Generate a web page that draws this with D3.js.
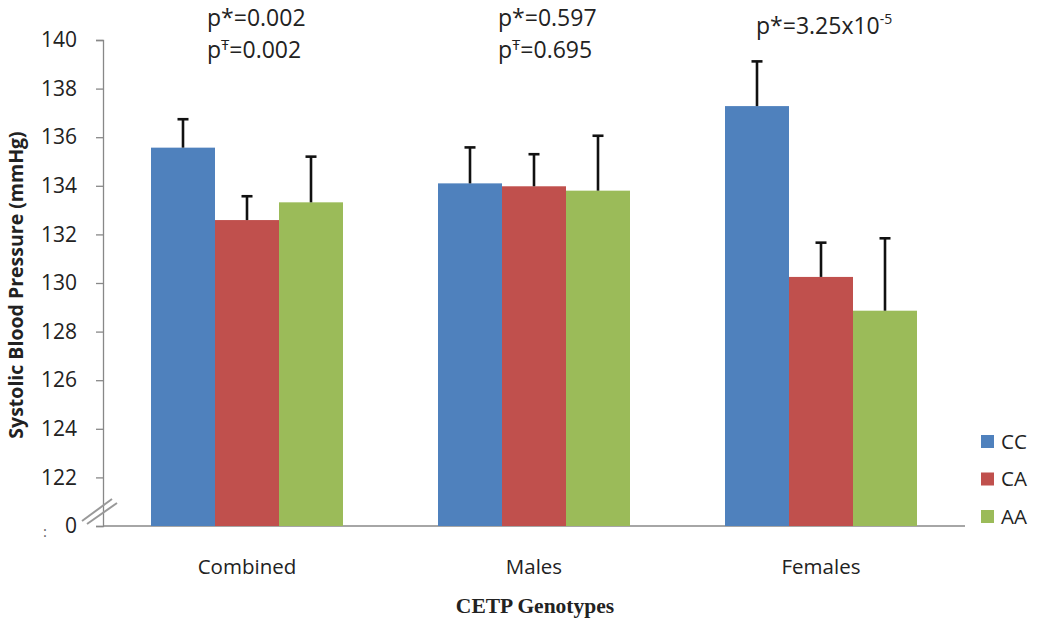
<!DOCTYPE html>
<html><head><meta charset="utf-8">
<script src="https://cdn.jsdelivr.net/npm/d3@7"></script>
<style>body{margin:0;background:#fff}svg{display:block}</style>
</head><body><svg id="c" width="1050" height="627"></svg>
<script>
const categories = ["Combined", "Males", "Females"];
const genotypes = ["CC", "CA", "AA"];
const colors = ["#4F81BD", "#C0504D", "#9BBB59"];
const ccMeans = [135.57, 134.10, 137.28];
const caMeans = [132.59, 133.98, 130.25];
const aaMeans = [133.32, 133.80, 128.86];
const ccErr = [1.17, 1.48, 1.84];
const caErr = [0.98, 1.32, 1.41];
const aaErr = [1.88, 2.26, 2.98];
const yTicks = [120, 122, 124, 126, 128, 130, 132, 134, 136, 138, 140];
const yTickLabels = ["0", "122", "124", "126", "128", "130", "132", "134", "136", "138", "140"];

const means = [ccMeans, caMeans, aaMeans];
const errs = [ccErr, caErr, aaErr];
const data = [];
categories.forEach((c, i) => genotypes.forEach((g, j) => data.push({cat: c, g, v: means[j][i], e: errs[j][i], color: colors[j]})));

const svg = d3.select("#c");
const font = "'Open Sans', 'Liberation Sans', sans-serif";
const x0 = d3.scaleBand().domain(categories).range([103.5, 964.5]);
const x1 = d3.scaleBand().domain(genotypes).range([47.5, 239.5]);
const y = d3.scaleLinear().domain([120, 140]).range([526, 40]);

// y axis
const ya = svg.append("g").attr("transform", "translate(103,0)")
  .call(d3.axisLeft(y).tickValues(yTicks).tickSize(7).tickPadding(6).tickFormat((d, i) => yTickLabels[i]));
ya.select(".domain").attr("stroke", "#888").attr("stroke-width", 1.3);
ya.selectAll(".tick line").attr("stroke", "#888").attr("stroke-width", 1.3);
ya.selectAll(".tick text").attr("font-family", font).attr("font-size", 21).attr("fill", "#222").attr("dx", -13);

// baseline
svg.append("line").attr("x1", 103).attr("x2", 965).attr("y1", y(120)).attr("y2", y(120)).attr("stroke", "#888").attr("stroke-width", 1.3);

// bars
const bars = svg.append("g");
bars.selectAll("rect").data(data).join("rect")
  .attr("x", d => x0(d.cat) + x1(d.g))
  .attr("width", x1.bandwidth())
  .attr("y", d => y(d.v))
  .attr("height", d => y(120) - y(d.v))
  .attr("fill", d => d.color);

// error bars
const eb = svg.append("g").attr("stroke", "#111").attr("stroke-width", 2.6);
eb.selectAll("line.v").data(data).join("line").attr("class", "v")
  .attr("x1", d => x0(d.cat) + x1(d.g) + x1.bandwidth() / 2)
  .attr("x2", d => x0(d.cat) + x1(d.g) + x1.bandwidth() / 2)
  .attr("y1", d => y(d.v)).attr("y2", d => y(d.v + d.e));
eb.selectAll("line.c").data(data).join("line").attr("class", "c")
  .attr("x1", d => x0(d.cat) + x1(d.g) + x1.bandwidth() / 2 - 5.5)
  .attr("x2", d => x0(d.cat) + x1(d.g) + x1.bandwidth() / 2 + 5.5)
  .attr("y1", d => y(d.v + d.e)).attr("y2", d => y(d.v + d.e));

// axis break mark
const brk = svg.append("g").attr("stroke", "#999").attr("stroke-width", 2);
brk.append("line").attr("x1", 82).attr("y1", 521).attr("x2", 112).attr("y2", 499);
brk.append("line").attr("x1", 87).attr("y1", 524).attr("x2", 117).attr("y2", 503);
svg.append("text").attr("x", 43).attr("y", 537).attr("font-family", font).attr("font-size", 15).attr("fill", "#666").text(":");

// x labels
svg.append("g").selectAll("text").data(categories).join("text")
  .attr("x", d => x0(d) + x0.bandwidth() / 2).attr("y", 574)
  .attr("text-anchor", "middle").attr("font-family", font).attr("font-size", 20.5).attr("fill", "#222").text(d => d);

// axis titles
svg.append("text").attr("transform", "translate(23,285) rotate(-90)").attr("text-anchor", "middle")
  .attr("font-family", font).attr("font-weight", "bold").attr("font-size", 19.5).attr("fill", "#222")
  .text("Systolic Blood Pressure (mmHg)");
svg.append("text").attr("x", 535).attr("y", 613).attr("text-anchor", "middle")
  .attr("font-family", "'Liberation Serif', serif").attr("font-weight", "bold").attr("font-size", 21.5).attr("fill", "#222")
  .text("CETP Genotypes");

// p annotations
const pFont = 23;
function pLine(xp, yp, sym, val) {
  const t = svg.append("text").attr("x", xp).attr("y", yp).attr("font-family", font).attr("font-size", pFont).attr("fill", "#222");
  t.append("tspan").text("p");
  if (sym === "*") t.append("tspan").text("*");
  else t.append("tspan").attr("font-size", 15).attr("dy", -8).text("Ŧ");
  t.append("tspan").attr("dy", sym === "*" ? 0 : 8).text(val);
  return t;
}
pLine(207, 26, "*", "=0.002");
pLine(207, 58, "T", "=0.002");
pLine(498, 26, "*", "=0.597");
pLine(498, 58, "T", "=0.695");
const t3 = pLine(756, 34, "*", "=3.25x10");
t3.append("tspan").attr("font-size", 14).attr("dy", -10).text("-5");

// legend
const lg = svg.append("g").attr("transform", "translate(981,441)");
genotypes.forEach((g, i) => {
  lg.append("rect").attr("x", 0).attr("y", i * 37.5 - 6).attr("width", 13).attr("height", 13).attr("fill", colors[i]);
  lg.append("text").attr("x", 20).attr("y", i * 37.5 + 7.5).attr("font-family", font).attr("font-size", 20.5).attr("fill", "#222").text(g);
});
</script></body></html>
